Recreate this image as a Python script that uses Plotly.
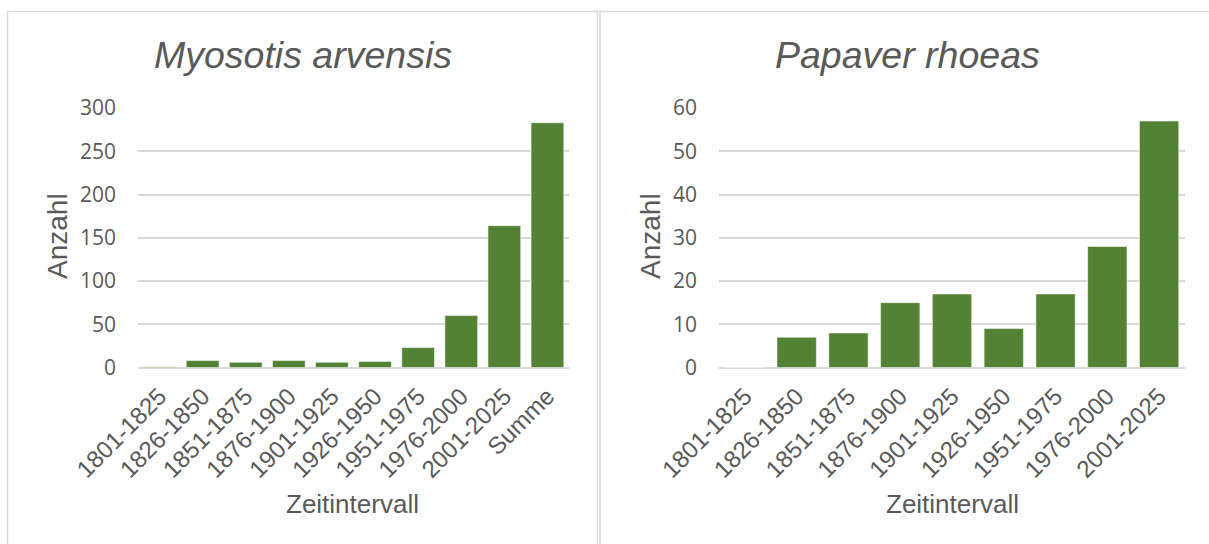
import plotly.graph_objects as go

W, H = 1209, 544

# ---- data ----
categories_left = ["1801-1825", "1826-1850", "1851-1875", "1876-1900", "1901-1925",
                   "1926-1950", "1951-1975", "1976-2000", "2001-2025", "Summe"]
values_left = [1, 8, 6, 8, 6, 7, 23, 60, 164, 283]

categories_right = ["1801-1825", "1826-1850", "1851-1875", "1876-1900", "1901-1925",
                    "1926-1950", "1951-1975", "1976-2000", "2001-2025"]
values_right = [0, 7, 8, 15, 17, 9, 17, 28, 57]

title_left = "Myosotis arvensis"
title_right = "Papaver rhoeas"
y_title = "Anzahl"
x_title = "Zeitintervall"

# ---- styles ----
TXT = "#595959"
GRID = "#d9d9d9"
BAR = "#548235"
ARIAL = "Liberation Sans"
NUM = "Open Sans"


def px(x):
    return x / W


def py(y):
    return 1 - y / H


fig = go.Figure()

fig.add_trace(go.Bar(x=categories_left, y=values_left, xaxis="x", yaxis="y",
                     marker=dict(color=BAR, line=dict(color="rgba(255,255,255,0.55)", width=1)),
                     showlegend=False))
fig.add_trace(go.Bar(x=categories_right, y=values_right, xaxis="x2", yaxis="y2",
                     marker=dict(color=BAR, line=dict(color="rgba(255,255,255,0.55)", width=1)),
                     showlegend=False))

y_dom = [py(367.5), py(108)]

common_x = dict(showgrid=False, zeroline=False, showline=False, ticks="",
                tickangle=-45, tickfont=dict(family=ARIAL, size=24, color=TXT),
                ticklabelstandoff=9, fixedrange=True, automargin=False)
common_y = dict(showgrid=True, gridcolor=GRID, gridwidth=1.5, zeroline=True,
                zerolinecolor=GRID, zerolinewidth=1.5, showline=False, ticks="",
                tickfont=dict(family=NUM, size=21, color=TXT), ticklabelstandoff=21,
                fixedrange=True, automargin=False)

fig.update_layout(
    width=W, height=H,
    margin=dict(l=0, r=0, t=0, b=0, pad=0, autoexpand=False),
    paper_bgcolor="white", plot_bgcolor="white",
    bargap=0.24,
    xaxis=dict(domain=[px(138), px(569)], anchor="y", **common_x),
    yaxis=dict(domain=y_dom, anchor="x", range=[0, 300], dtick=50, **common_y),
    xaxis2=dict(domain=[px(719), px(1185)], anchor="y2", **common_x),
    yaxis2=dict(domain=y_dom, anchor="x2", range=[0, 60], dtick=10, **common_y),
)

# panel borders
fig.add_shape(type="rect", xref="paper", yref="paper",
              x0=px(7.5), x1=px(597.5), y0=py(560), y1=py(11.5),
              line=dict(color=GRID, width=1.5), fillcolor="rgba(0,0,0,0)", layer="below")
fig.add_shape(type="rect", xref="paper", yref="paper",
              x0=px(600), x1=px(1225), y0=py(560), y1=py(11.5),
              line=dict(color=GRID, width=1.5), fillcolor="rgba(0,0,0,0)", layer="below")

ann = []
for cx, t in [(303, title_left), (907, title_right)]:
    ann.append(dict(x=px(cx), y=py(55), xref="paper", yref="paper", text=t,
                    showarrow=False, xanchor="center", yanchor="middle",
                    font=dict(family=ARIAL, size=37.5, color=TXT, style="italic")))
for cx in [57, 650]:
    ann.append(dict(x=px(cx), y=py(236), xref="paper", yref="paper", text=y_title,
                    showarrow=False, textangle=-90, xanchor="center", yanchor="middle",
                    font=dict(family=ARIAL, size=28, color=TXT)))
for cx in [352, 952]:
    ann.append(dict(x=px(cx), y=py(504), xref="paper", yref="paper", text=x_title,
                    showarrow=False, xanchor="center", yanchor="middle",
                    font=dict(family=ARIAL, size=26, color=TXT)))
fig.update_layout(annotations=ann)

fig.write_html("out.html", config={"displayModeBar": False},
               post_script="document.body.style.margin='0';document.body.style.overflow='hidden';")
